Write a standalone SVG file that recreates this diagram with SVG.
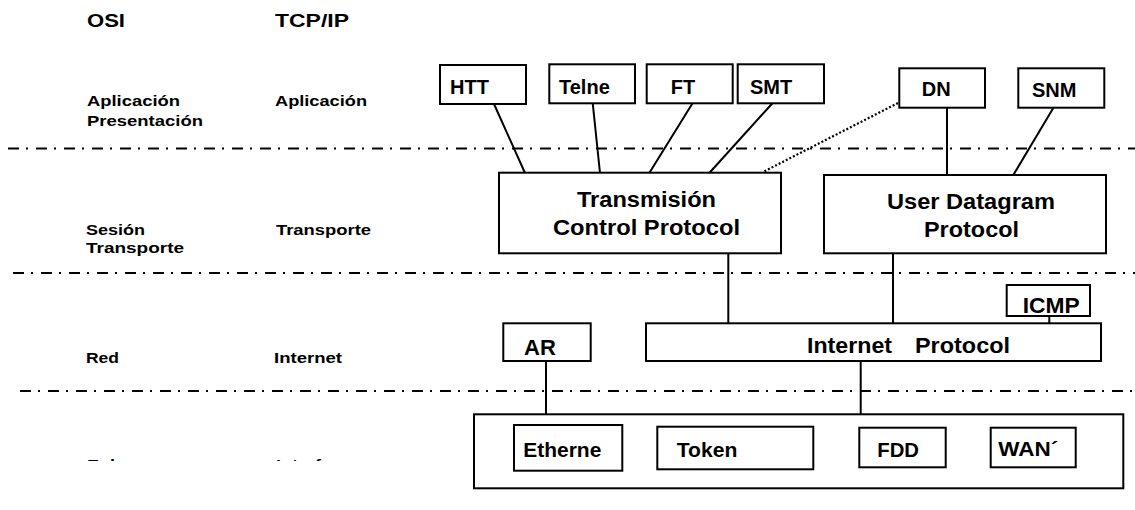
<svg xmlns="http://www.w3.org/2000/svg" width="1135" height="510" viewBox="0 0 1135 510">
<style>
text{font-family:"Liberation Sans",Arial,sans-serif;font-weight:bold;fill:#000}
.lbl{font-size:15px}
.hdr{font-size:19px}
.sm{font-size:20px}
.big{font-size:22px}
.box{fill:#fff;stroke:#000;stroke-width:2}
.sep{stroke:#000;stroke-width:2.2;stroke-dasharray:11 7 2 8;fill:none}
.con{stroke:#000;stroke-width:2;fill:none}
.dot{stroke:#000;stroke-width:2.2;stroke-dasharray:2 2;fill:none}
</style>
<defs>
<clipPath id="cut"><rect x="0" y="0" width="1135" height="461"/></clipPath>
</defs>
<rect width="1135" height="510" fill="#fff"/>
<g id="separators">
<line class="sep" x1="8" y1="148.5" x2="1135" y2="148.5"/>
<line class="sep" x1="13" y1="273" x2="1135" y2="273"/>
<line class="sep" x1="20" y1="391" x2="1135" y2="391"/>
</g>
<g id="layer-labels">
<text class="hdr" x="87" y="27" textLength="38" lengthAdjust="spacingAndGlyphs">OSI</text>
<text class="hdr" x="275" y="27" textLength="74" lengthAdjust="spacingAndGlyphs">TCP/IP</text>
<text class="lbl" x="87" y="106" textLength="93" lengthAdjust="spacingAndGlyphs">Aplicación</text>
<text class="lbl" x="87" y="126" textLength="116" lengthAdjust="spacingAndGlyphs">Presentación</text>
<text class="lbl" x="275" y="106" textLength="92" lengthAdjust="spacingAndGlyphs">Aplicación</text>
<text class="lbl" x="86" y="235" textLength="59" lengthAdjust="spacingAndGlyphs">Sesión</text>
<text class="lbl" x="86" y="253" textLength="98" lengthAdjust="spacingAndGlyphs">Transporte</text>
<text class="lbl" x="276" y="235" textLength="95" lengthAdjust="spacingAndGlyphs">Transporte</text>
<text class="lbl" x="86" y="363" textLength="33" lengthAdjust="spacingAndGlyphs">Red</text>
<text class="lbl" x="274" y="363" textLength="68" lengthAdjust="spacingAndGlyphs">Internet</text>
<g clip-path="url(#cut)">
<text class="lbl" x="87" y="470" textLength="58" lengthAdjust="spacingAndGlyphs">Enlace</text>
<text class="lbl" x="276" y="470" textLength="64" lengthAdjust="spacingAndGlyphs">Interfaz</text>
</g>
</g>
<g id="connectors">
<line class="con" x1="494" y1="104" x2="525" y2="173"/>
<line class="con" x1="592.7" y1="103" x2="600" y2="173"/>
<line class="con" x1="692.7" y1="103" x2="649.3" y2="173"/>
<line class="con" x1="772.7" y1="103" x2="709.3" y2="173"/>
<line class="dot" x1="898" y1="103" x2="763" y2="172"/>
<line class="con" x1="947" y1="108" x2="947" y2="175"/>
<line class="con" x1="1053.3" y1="108" x2="1013.3" y2="175"/>
<line class="con" x1="728.3" y1="253" x2="728.3" y2="323"/>
<line class="con" x1="893" y1="253" x2="893" y2="323"/>
<line class="con" x1="1049.3" y1="316" x2="1049.3" y2="323"/>
<line class="con" x1="546" y1="361" x2="546" y2="414"/>
<line class="con" x1="860.7" y1="361" x2="860.7" y2="414"/>
</g>
<g id="HTT"><rect class="box" x="440" y="65" width="86" height="39"/><text class="sm" x="450" y="94">HTT</text></g>
<g id="Telne"><rect class="box" x="549.3" y="64.3" width="85.7" height="39"/><text class="sm" x="559" y="94">Telne</text></g>
<g id="FT"><rect class="box" x="646.7" y="64.3" width="86" height="39"/><text class="sm" x="670.7" y="94">FT</text></g>
<g id="SMT"><rect class="box" x="737.7" y="64.3" width="86.3" height="39"/><text class="sm" x="750" y="94">SMT</text></g>
<g id="DN"><rect class="box" x="899.3" y="68.3" width="85.7" height="39.4"/><text class="sm" x="921.7" y="96">DN</text></g>
<g id="SNM"><rect class="box" x="1018.3" y="68.3" width="86" height="39.4"/><text class="sm" x="1032" y="97">SNM</text></g>
<g id="TCP"><rect class="box" x="499" y="172.7" width="282" height="80.6"/>
<text class="big" x="577" y="207" textLength="139" lengthAdjust="spacingAndGlyphs">Transmisión</text>
<text class="big" x="553" y="235" textLength="187" lengthAdjust="spacingAndGlyphs">Control Protocol</text></g>
<g id="UDP"><rect class="box" x="824" y="175" width="282" height="78.3"/>
<text class="big" x="887" y="209" textLength="168" lengthAdjust="spacingAndGlyphs">User Datagram</text>
<text class="big" x="924" y="237" textLength="95" lengthAdjust="spacingAndGlyphs">Protocol</text></g>
<g id="ICMP"><rect class="box" x="1006.7" y="285" width="83.3" height="31"/><text class="big" x="1022.7" y="313.3" textLength="57" lengthAdjust="spacingAndGlyphs">ICMP</text></g>
<g id="AR"><rect class="box" x="503.3" y="323.3" width="87.4" height="37.7"/><text class="big" x="524" y="355">AR</text></g>
<g id="IP"><rect class="box" x="646" y="323.3" width="455" height="37.7"/>
<text class="big" y="353"><tspan x="807" textLength="85" lengthAdjust="spacingAndGlyphs">Internet</tspan><tspan x="915" textLength="95" lengthAdjust="spacingAndGlyphs">Protocol</tspan></text></g>
<g id="Link"><rect class="box" x="474" y="414.3" width="649.3" height="74"/></g>
<g id="Etherne"><rect class="box" x="514" y="425" width="108.3" height="45.7"/><text class="sm" x="523.3" y="456.7" textLength="78" lengthAdjust="spacingAndGlyphs">Etherne</text></g>
<g id="Token"><rect class="box" x="657.3" y="426.7" width="156" height="42.6"/><text class="sm" x="676.7" y="456.7" textLength="60.6" lengthAdjust="spacingAndGlyphs">Token</text></g>
<g id="FDD"><rect class="box" x="859.3" y="427.7" width="86.4" height="39.6"/><text class="sm" x="877.3" y="456.7" textLength="41.7" lengthAdjust="spacingAndGlyphs">FDD</text></g>
<g id="WAN"><rect class="box" x="990.7" y="427.7" width="85" height="39.6"/><text class="sm" x="998.3" y="456" textLength="60" lengthAdjust="spacingAndGlyphs">WAN´</text></g>
</svg>
